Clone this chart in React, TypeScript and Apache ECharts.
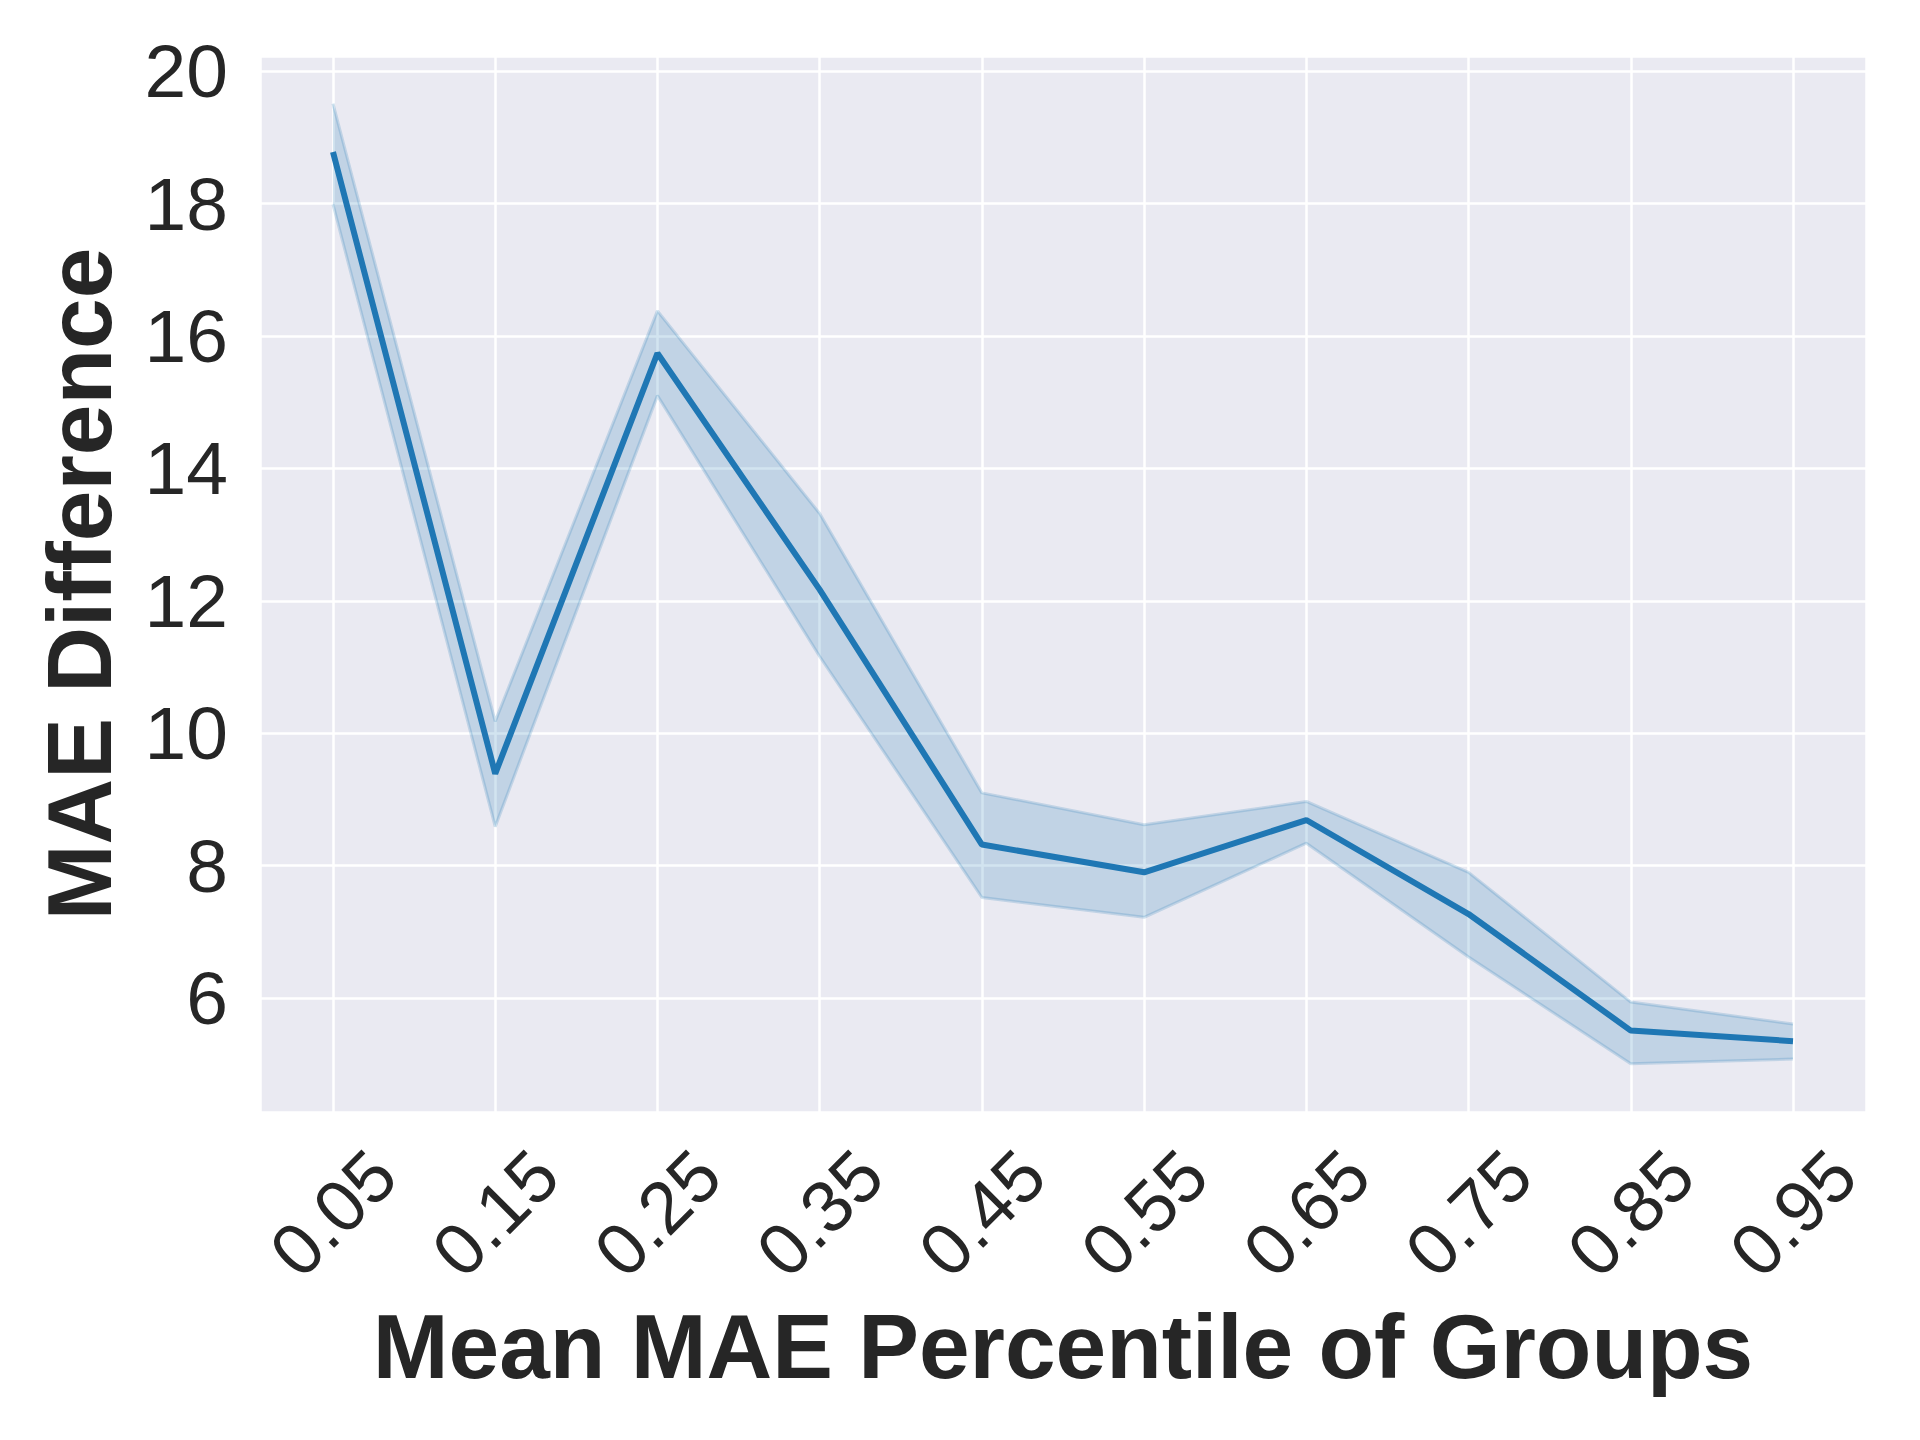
import React, { useEffect, useRef } from "react";
import * as echarts from "echarts";

const xLabels = ["0.05", "0.15", "0.25", "0.35", "0.45", "0.55", "0.65", "0.75", "0.85", "0.95"];
const meanValues = [18.78, 9.39, 15.74, 12.17, 8.32, 7.9, 8.69, 7.27, 5.51, 5.35];
const upperValues = [19.51, 10.18, 16.38, 13.32, 9.1, 8.62, 8.97, 7.9, 5.94, 5.61];
const lowerValues = [17.99, 8.59, 15.1, 11.16, 7.52, 7.22, 8.34, 6.62, 5.01, 5.08];

const xTitle = "Mean MAE Percentile of Groups";
const yTitle = "MAE Difference";

const FONT = "'Liberation Sans', Arial, Helvetica, sans-serif";
const TEXT = "#262626";
const BLUE = "#1f77b4";
const BAND = "rgba(31,119,180,0.2)";

export default function App() {
  const ref = useRef<HTMLDivElement>(null);

  useEffect(() => {
    if (!ref.current) return;
    const chart = echarts.init(ref.current, undefined, { renderer: "svg" });

    const lowerData = lowerValues.map((v, i) => [i, v]);
    const upperData = upperValues.map((v, i) => [i, v]);
    const meanData = meanValues.map((v, i) => [i, v]);

    const isWhole = (v: number) => Math.abs(v - Math.round(v)) < 1e-6;

    chart.setOption({
      animation: false,
      backgroundColor: "#ffffff",
      grid: {
        left: 260,
        top: 56,
        width: 1606,
        height: 1056,
        show: true,
        backgroundColor: "#EAEAF2",
        borderWidth: 0,
        containLabel: false,
      },
      xAxis: {
        type: "value",
        min: -0.45,
        max: 9.45,
        splitNumber: 10,
        axisLine: { show: false },
        axisTick: { show: false },
        splitLine: { show: true, lineStyle: { color: "#ffffff", width: 2.5 } },
        axisLabel: {
          showMinLabel: false,
          showMaxLabel: false,
          rotate: 45,
          align: "center",
          verticalAlign: "middle",
          margin: 101,
          fontSize: 73,
          fontFamily: FONT,
          color: TEXT,
          formatter: (v: number) => (isWhole(v) && v >= 0 && v < xLabels.length ? xLabels[Math.round(v)] : ""),
        },
      },
      yAxis: {
        type: "value",
        min: 4.28,
        max: 20.23,
        splitNumber: 8,
        axisLine: { show: false },
        axisTick: { show: false },
        splitLine: { show: true, lineStyle: { color: "#ffffff", width: 2.5 } },
        axisLabel: {
          showMinLabel: false,
          showMaxLabel: false,
          margin: 32,
          fontSize: 75,
          fontFamily: FONT,
          color: TEXT,
          formatter: (v: number) => (isWhole(v) ? String(Math.round(v)) : ""),
        },
      },
      graphic: [
        {
          type: "text",
          x: 1063,
          y: 1346,
          style: {
            text: xTitle,
            fontSize: 91,
            fontWeight: "bold",
            fontFamily: FONT,
            fill: TEXT,
            align: "center",
            verticalAlign: "middle",
          },
        },
        {
          type: "text",
          x: 79,
          y: 584,
          rotation: Math.PI / 2,
          style: {
            text: yTitle,
            fontSize: 91,
            fontWeight: "bold",
            fontFamily: FONT,
            fill: TEXT,
            align: "center",
            verticalAlign: "middle",
          },
        },
      ],
      series: [
        {
          name: "ciBand",
          type: "custom",
          data: [[0, 0]],
          z: 2,
          renderItem: (params: any, api: any) => {
            const pts: number[][] = [];
            for (let i = 0; i < upperValues.length; i++) pts.push(api.coord([i, upperValues[i]]));
            for (let i = lowerValues.length - 1; i >= 0; i--) pts.push(api.coord([i, lowerValues[i]]));
            return {
              type: "polygon",
              shape: { points: pts },
              style: { fill: BAND, stroke: "none" },
            };
          },
        },
        {
          name: "ciLower",
          type: "line",
          data: lowerData,
          symbol: "none",
          lineStyle: { color: BAND, width: 3 },
          z: 3,
        },
        {
          name: "ciUpper",
          type: "line",
          data: upperData,
          symbol: "none",
          lineStyle: { color: BAND, width: 3 },
          z: 3,
        },
        {
          name: "mean",
          type: "line",
          data: meanData,
          symbol: "none",
          lineStyle: { color: BLUE, width: 6 },
          z: 4,
        },
      ],
    });

    return () => chart.dispose();
  }, []);

  return (
    <div
      ref={ref}
      style={{ position: "absolute", left: 0, top: 0, width: 1920, height: 1440 }}
    />
  );
}
